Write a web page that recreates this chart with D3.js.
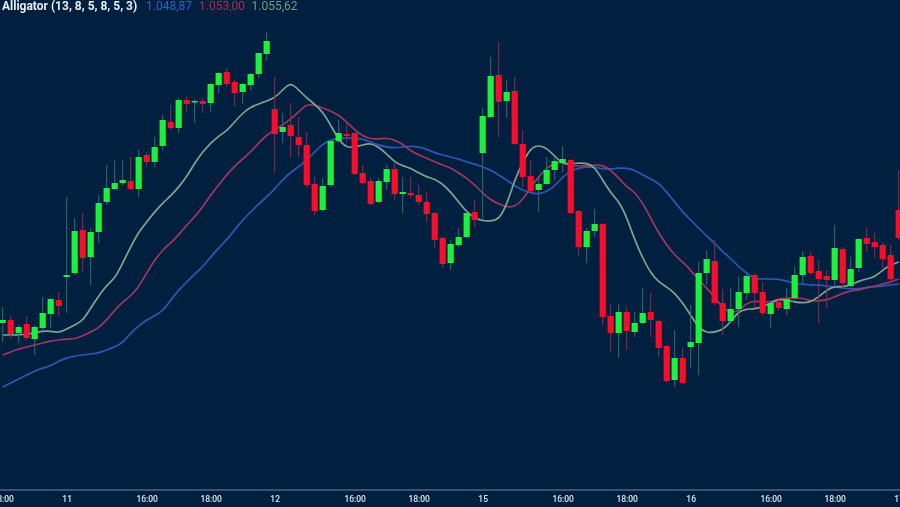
<!DOCTYPE html>
<html>
<head>
<meta charset="utf-8">
<script src="https://cdn.jsdelivr.net/npm/d3@7"></script>
<style>
  html, body { margin: 0; padding: 0; background: #01203f; overflow: hidden; }
</style>
</head>
<body>
<svg id="chart"></svg>
<script>
// Candles, one entry per bar
const opens = [1044.7,1045.0,1043.7,1044.6,1043.1,1044.2,1045.6,1047.0,1049.3,1049.7,1054.0,1051.3,1053.8,1056.8,1058.1,1058.7,1058.9,1058.1,1061.5,1060.8,1062.4,1064.8,1064.2,1067.0,1066.8,1066.9,1066.7,1068.5,1069.8,1068.8,1067.8,1068.5,1069.6,1071.6,1066.1,1063.8,1064.5,1063.3,1062.5,1058.6,1056.0,1058.5,1062.9,1063.6,1063.7,1059.7,1058.9,1056.8,1058.8,1060.1,1057.6,1057.7,1057.5,1056.8,1055.7,1053.2,1050.7,1052.5,1053.3,1055.8,1061.7,1065.3,1069.5,1066.9,1067.9,1062.6,1059.4,1058.0,1058.6,1060.0,1060.7,1061.0,1055.9,1052.3,1053.9,1054.6,1045.4,1043.7,1045.8,1043.8,1044.7,1045.8,1044.9,1042.4,1039.0,1041.2,1042.3,1042.7,1049.7,1050.9,1046.7,1044.9,1046.1,1047.7,1049.5,1047.8,1045.6,1046.8,1046.1,1047.2,1049.5,1051.4,1049.9,1049.4,1049.0,1052.1,1048.4,1050.2,1053.2,1052.8,1052.5,1051.5,1056.0];
const highs = [1046.3,1045.5,1044.5,1045.4,1044.5,1047.3,1047.2,1047.8,1057.3,1055.2,1055.7,1054.2,1057.5,1060.5,1061.0,1061.0,1061.3,1062.0,1061.8,1063.3,1065.5,1066.5,1067.2,1067.3,1067.1,1067.2,1068.7,1069.8,1070.2,1069.0,1068.7,1069.7,1071.7,1073.8,1069.3,1065.7,1066.7,1065.3,1063.8,1059.3,1059.2,1063.0,1065.0,1064.7,1063.8,1060.5,1059.2,1059.2,1060.5,1060.7,1059.3,1059.3,1058.5,1057.8,1055.8,1053.3,1053.0,1054.2,1055.8,1057.0,1066.2,1071.3,1072.8,1069.0,1069.3,1064.0,1061.0,1059.3,1061.3,1061.3,1062.4,1061.1,1056.0,1054.2,1056.1,1054.7,1046.6,1046.6,1046.3,1045.8,1048.2,1047.7,1045.0,1042.5,1044.0,1042.2,1046.5,1050.8,1052.0,1053.0,1048.1,1048.2,1049.3,1049.7,1049.7,1048.8,1046.8,1047.2,1048.2,1050.3,1051.9,1051.9,1051.0,1050.0,1054.5,1052.3,1051.3,1053.2,1054.3,1053.7,1052.8,1052.5,1060.0];
const lows = [1042.8,1043.2,1042.7,1043.0,1041.5,1044.0,1044.2,1045.4,1045.7,1049.5,1049.8,1048.5,1052.7,1056.5,1058.0,1058.5,1058.0,1057.3,1060.3,1060.3,1062.0,1064.0,1063.7,1065.8,1064.7,1065.7,1065.8,1067.7,1068.3,1066.4,1066.6,1068.0,1069.2,1071.0,1059.7,1062.7,1061.2,1061.3,1058.2,1055.5,1055.8,1058.3,1062.7,1062.8,1059.5,1058.6,1056.5,1056.7,1058.0,1057.0,1055.7,1057.2,1056.5,1054.8,1052.2,1050.2,1050.0,1052.3,1053.2,1054.3,1055.0,1065.2,1063.3,1065.2,1062.5,1058.3,1057.7,1055.8,1058.5,1059.0,1059.8,1055.6,1051.4,1050.7,1053.3,1044.5,1041.8,1041.2,1042.0,1043.3,1044.6,1043.3,1041.3,1038.8,1038.3,1038.6,1040.2,1039.5,1048.5,1046.5,1043.5,1044.7,1044.3,1047.0,1046.2,1045.5,1044.2,1045.9,1045.5,1047.0,1048.7,1049.5,1044.7,1046.2,1048.3,1048.3,1048.3,1049.8,1051.8,1051.3,1050.0,1049.0,1053.0];
const closes = [1045.0,1043.6,1044.3,1043.2,1044.3,1045.7,1047.1,1046.4,1049.5,1053.9,1051.2,1053.8,1056.7,1058.2,1058.7,1059.0,1058.1,1061.3,1060.8,1062.3,1065.0,1064.2,1067.0,1066.6,1066.9,1066.6,1068.6,1069.7,1068.6,1067.7,1068.6,1069.6,1071.7,1072.9,1063.6,1064.3,1063.4,1062.5,1058.5,1055.9,1058.4,1062.9,1063.7,1063.4,1059.6,1058.7,1056.6,1058.9,1060.1,1057.6,1057.8,1057.5,1056.8,1055.6,1053.0,1050.6,1052.6,1053.3,1055.7,1055.0,1065.4,1069.4,1066.8,1067.8,1062.6,1059.3,1057.9,1058.6,1060.0,1060.9,1061.1,1055.7,1052.3,1053.9,1054.6,1045.3,1043.7,1045.8,1043.9,1044.7,1045.7,1045.0,1042.2,1038.9,1041.2,1038.7,1042.8,1049.7,1051.1,1046.7,1044.9,1046.1,1047.8,1049.4,1047.7,1045.7,1046.7,1046.2,1047.1,1049.5,1051.3,1049.7,1049.1,1049.0,1052.2,1048.7,1050.1,1053.1,1052.6,1052.3,1051.1,1049.1,1053.2];

// Alligator lines
const jaw = [1038.3,1038.7,1039.1,1039.5,1039.9,1040.2,1040.4,1040.9,1041.2,1041.4,1041.5,1041.6,1041.7,1042.0,1042.3,1042.7,1043.7,1044.4,1045.0,1045.4,1045.9,1047.0,1048.0,1048.8,1049.6,1050.3,1051.3,1052.2,1053.0,1054.0,1055.0,1055.8,1056.6,1057.3,1058.1,1059.0,1059.8,1060.3,1061.0,1061.8,1062.6,1063.0,1063.2,1063.2,1063.2,1063.1,1062.8,1062.5,1062.3,1062.2,1062.3,1062.4,1062.3,1062.1,1061.7,1061.5,1061.3,1061.1,1060.8,1060.6,1060.3,1060.0,1059.5,1059.0,1058.4,1058.0,1057.7,1057.6,1057.8,1058.4,1059.3,1059.9,1060.2,1060.3,1060.3,1060.1,1060.1,1060.2,1060.2,1060.0,1059.5,1059.1,1058.7,1057.8,1056.8,1055.8,1055.0,1054.2,1053.4,1052.7,1051.8,1051.2,1050.3,1049.7,1049.1,1049.1,1049.1,1049.1,1048.9,1048.6,1048.6,1048.5,1048.5,1048.4,1048.3,1048.2,1048.1,1048.1,1048.3,1048.3,1048.4,1048.5,1048.6];
const teeth = [1041.5,1041.8,1042.1,1042.3,1042.5,1042.7,1042.9,1043.0,1043.1,1043.1,1043.4,1043.8,1044.2,1045.0,1046.0,1046.8,1047.4,1048.3,1049.7,1051.0,1052.0,1052.7,1053.5,1054.5,1055.3,1056.3,1057.5,1058.5,1059.5,1060.4,1061.1,1061.8,1062.7,1063.5,1064.0,1064.5,1065.1,1065.8,1066.6,1066.5,1066.2,1065.9,1065.5,1064.8,1064.0,1063.4,1063.1,1063.1,1063.2,1063.0,1062.6,1061.9,1061.5,1061.2,1060.8,1060.5,1060.2,1059.7,1059.2,1058.5,1057.7,1057.0,1056.6,1056.3,1056.3,1057.0,1058.3,1059.3,1060.2,1060.7,1060.8,1060.4,1060.4,1060.4,1060.5,1060.5,1060.0,1059.2,1058.3,1057.8,1056.7,1055.2,1053.7,1052.5,1051.5,1050.8,1050.0,1049.0,1048.2,1047.3,1046.2,1045.7,1045.9,1046.7,1046.9,1046.8,1046.8,1047.1,1047.2,1047.2,1047.2,1046.9,1046.9,1047.0,1047.3,1047.7,1047.9,1048.0,1048.2,1048.4,1048.6,1048.8,1049.1];
const lips = [1043.5,1043.5,1043.5,1043.6,1043.7,1043.9,1043.9,1043.7,1044.1,1044.5,1044.9,1046.2,1047.4,1048.5,1049.1,1050.7,1052.3,1053.8,1054.8,1055.8,1056.7,1057.4,1058.3,1059.3,1060.7,1061.8,1062.7,1063.4,1063.9,1064.8,1065.7,1066.3,1066.6,1066.9,1067.2,1068.0,1068.8,1068.0,1067.2,1066.6,1065.8,1064.5,1063.0,1062.2,1062.3,1062.5,1062.7,1062.3,1061.6,1060.8,1060.4,1060.2,1059.7,1059.3,1059.1,1058.6,1057.8,1056.8,1055.8,1055.2,1054.9,1054.9,1055.0,1056.5,1059.0,1060.8,1062.2,1062.5,1062.2,1061.4,1060.6,1060.6,1060.7,1060.7,1060.3,1059.0,1057.7,1056.9,1055.3,1053.0,1051.2,1049.7,1048.8,1048.3,1047.7,1046.7,1045.5,1044.2,1043.7,1043.8,1044.0,1044.8,1045.9,1046.1,1046.1,1046.3,1046.7,1047.1,1047.0,1046.8,1046.7,1046.8,1047.3,1048.0,1048.4,1048.3,1048.5,1048.9,1049.1,1049.3,1050.0,1050.5,1050.8];

// Time axis
const tickBars = [0, 8, 18, 26, 34, 44, 52, 60, 70, 78, 86, 96, 104, 112];
const tickLabels = ['18:00', '11', '16:00', '18:00', '12', '16:00', '18:00', '15', '16:00', '18:00', '16', '16:00', '18:00', '17'];

// Legend
const legendName = 'Alligator (13, 8, 5, 8, 5, 3)';
const legendValues = ['1.048,87', '1.053,00', '1.055,62'];

const width = 900;
const height = 507;
const axisY = 490;
const bg = '#01203f';
const upColor = '#1df23c';
const downColor = '#fa0f2a';
const upWick = '#2c6b66';
const downWick = '#8a2848';
const jawColor = '#2c58b4';
const teethColor = '#a03660';
const lipsColor = '#7fa48e';

const svg = d3.select('#chart')
  .attr('width', width)
  .attr('height', height)
  .style('display', 'block')
  .style('background', bg);

// the reference is a soft, resized screenshot
const filter = svg.append('defs').append('filter').attr('id', 'soft');
filter.append('feGaussianBlur').attr('stdDeviation', 0.45);

const x = d3.scaleLinear().domain([0, 112]).range([2.67, 898.67]);
const y = d3.scaleLinear().domain([1026.3, 1077]).range([height, 0]);
const bars = d3.range(opens.length);

const plot = svg.append('g').attr('filter', 'url(#soft)');

// Lines sit under the candles
const line = d3.line()
  .x((d, i) => x(i))
  .y(d => y(d))
  .curve(d3.curveBasis);

[[jaw, jawColor], [teeth, teethColor], [lips, lipsColor]].forEach(([values, color]) => {
  plot.append('path')
    .datum(values)
    .attr('fill', 'none')
    .attr('stroke', color)
    .attr('stroke-width', 1.7)
    .attr('d', line);
});

const isUp = i => closes[i] >= opens[i];

plot.selectAll('.wick')
  .data(bars)
  .enter()
  .append('line')
  .attr('class', 'wick')
  .attr('x1', i => x(i))
  .attr('x2', i => x(i))
  .attr('y1', i => y(highs[i]))
  .attr('y2', i => y(lows[i]))
  .attr('stroke', i => isUp(i) ? upWick : downWick)
  .attr('stroke-width', 1.1);

plot.selectAll('.body')
  .data(bars)
  .enter()
  .append('rect')
  .attr('class', 'body')
  .attr('x', i => x(i) - 3.1)
  .attr('width', 6.2)
  .attr('y', i => y(Math.max(opens[i], closes[i])))
  .attr('height', i => Math.max(1.5, Math.abs(y(opens[i]) - y(closes[i]))))
  .attr('fill', i => isUp(i) ? upColor : downColor);

// Time axis
const axis = svg.append('g')
  .attr('transform', `translate(0,${axisY})`)
  .attr('filter', 'url(#soft)')
  .call(d3.axisBottom(x)
    .tickValues(tickBars)
    .tickSize(0)
    .tickPadding(6)
    .tickFormat((d, i) => tickLabels[i]));

axis.select('.domain')
  .attr('d', `M0,0H${width}`)
  .attr('stroke', '#7186ab')
  .attr('stroke-width', 1.2);

axis.selectAll('text')
  .attr('fill', '#dfe5ee')
  .attr('font-family', 'Roboto, sans-serif')
  .attr('font-size', 8.5)
  .attr('font-weight', 500);

// Legend
svg.append('text')
  .attr('x', 2)
  .attr('y', 9.5)
  .attr('filter', 'url(#soft)')
  .attr('font-family', 'Roboto, sans-serif')
  .attr('font-size', 12)
  .attr('font-weight', 700)
  .attr('fill', '#e8edf2')
  .text(legendName);

[[146, legendValues[0], '#2f62c6'], [199, legendValues[1], '#b02a55'], [251.5, legendValues[2], '#6f9e7c']].forEach(([lx, label, color]) => {
  svg.append('text')
    .attr('x', lx)
    .attr('y', 9.5)
    .attr('filter', 'url(#soft)')
    .attr('font-family', 'Roboto, sans-serif')
    .attr('font-size', 12)
    .attr('fill', color)
    .text(label);
});
</script>
</body>
</html>
